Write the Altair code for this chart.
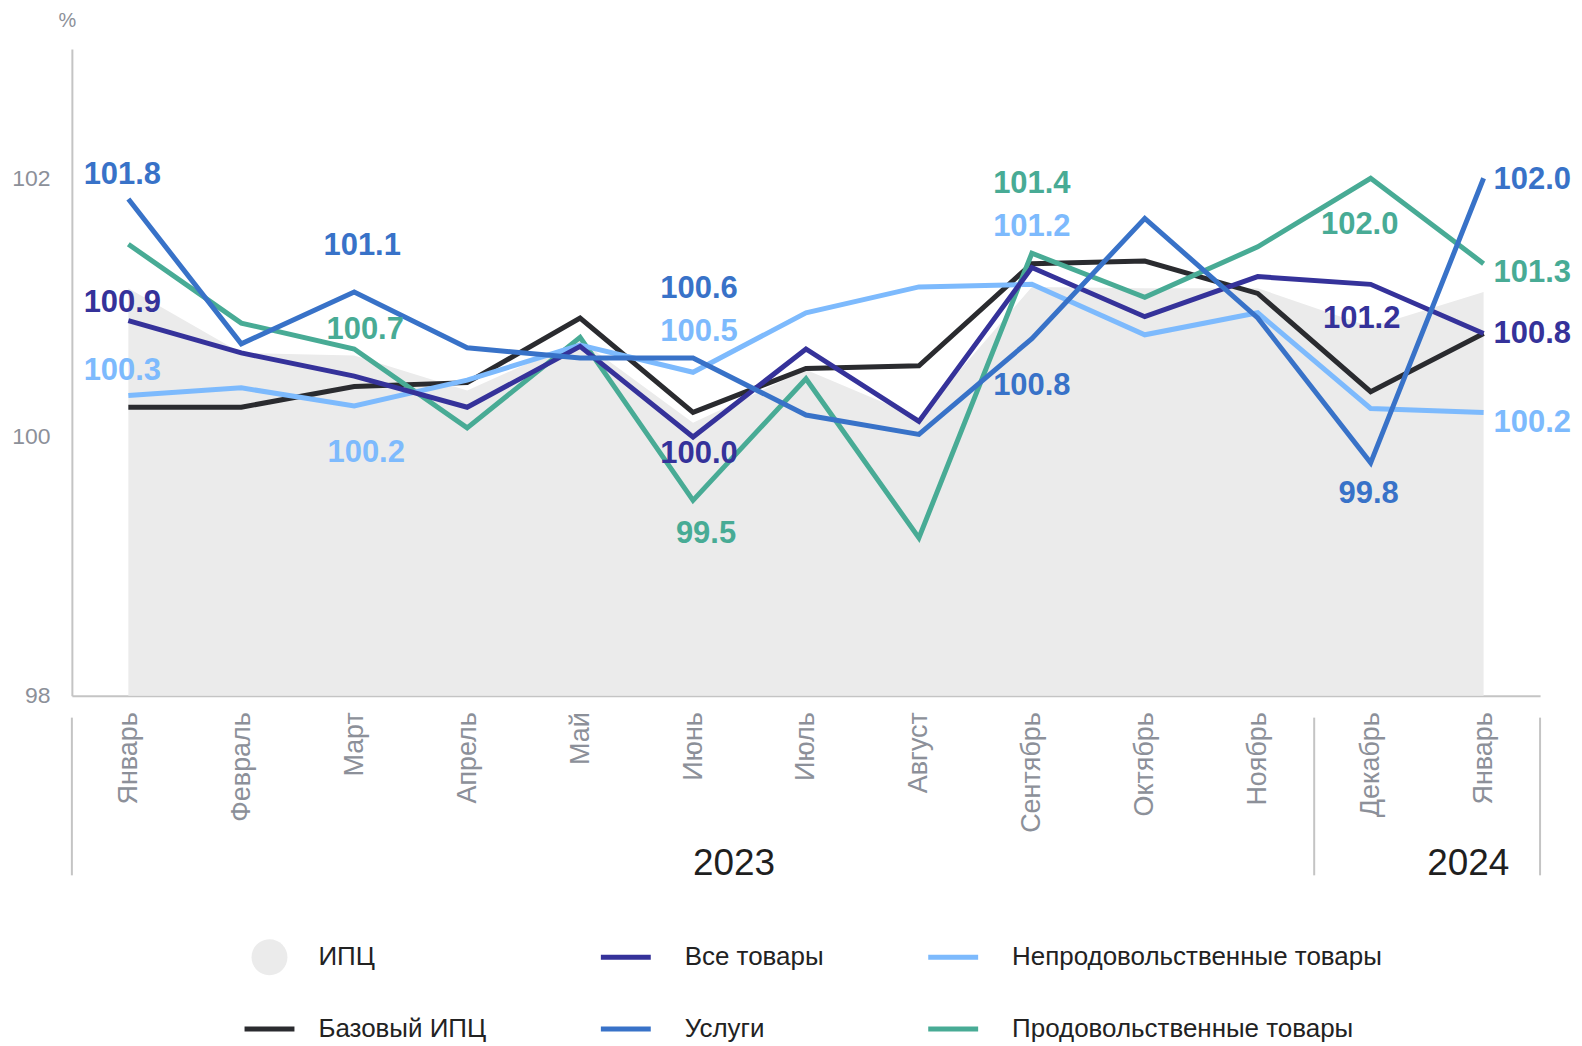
import json
import altair as alt
import pandas as pd

# ---------------- data ----------------
months = ["Январь", "Февраль", "Март", "Апрель", "Май", "Июнь", "Июль",
          "Август", "Сентябрь", "Октябрь", "Ноябрь", "Декабрь", "Январь"]
years = ["2023"] * 11 + ["2024"] * 2

cpi = [101.15, 100.65, 100.63, 100.36, 100.75, 100.11, 100.52, 100.15, 101.16, 101.15, 101.15, 100.85, 101.12]
core = [100.23, 100.23, 100.39, 100.42, 100.92, 100.19, 100.53, 100.55, 101.34, 101.36, 101.11, 100.35, 100.80]
all_goods = [100.90, 100.65, 100.47, 100.23, 100.70, 100.00, 100.68, 100.12, 101.31, 100.93, 101.24, 101.18, 100.80]
services = [101.84, 100.72, 101.12, 100.69, 100.61, 100.61, 100.17, 100.02, 100.76, 101.69, 100.92, 99.80, 102.00]
nonfood = [100.32, 100.38, 100.24, 100.44, 100.71, 100.50, 100.96, 101.16, 101.18, 100.79, 100.96, 100.22, 100.19]
food = [101.49, 100.88, 100.68, 100.07, 100.77, 99.51, 100.45, 99.22, 101.42, 101.08, 101.47, 102.00, 101.34]

series_names = ["ИПЦ", "Все товары", "Непродовольственные товары",
                "Базовый ИПЦ", "Услуги", "Продовольственные товары"]
series_colors = ["#ebebeb", "#35329a", "#7dbafd", "#2a2b2f", "#3872c8", "#48ab95"]

line_series = [
    ("Базовый ИПЦ", core),
    ("Продовольственные товары", food),
    ("Непродовольственные товары", nonfood),
    ("Все товары", all_goods),
    ("Услуги", services),
]

# value annotations: series, month index, pixel offset (dx, dy), alignment
annotations = [
    ("Услуги", 0, -6, -24, "center"),
    ("Все товары", 0, -6, -18, "center"),
    ("Непродовольственные товары", 0, -6, -25, "center"),
    ("Услуги", 2, 8, -46, "center"),
    ("Продовольственные товары", 2, 11, -19, "center"),
    ("Непродовольственные товары", 2, 12, 47, "center"),
    ("Услуги", 5, 6, -69, "center"),
    ("Непродовольственные товары", 5, 6, -40, "center"),
    ("Все товары", 5, 6, 17, "center"),
    ("Продовольственные товары", 5, 13, 34, "center"),
    ("Продовольственные товары", 8, 0, -69, "center"),
    ("Непродовольственные товары", 8, 0, -57, "center"),
    ("Услуги", 8, 0, 47, "center"),
    ("Продовольственные товары", 11, -11, 47, "center"),
    ("Все товары", 11, -9, 35, "center"),
    ("Услуги", 11, -2, 31, "center"),
    ("Услуги", 12, 10, 2, "left"),
    ("Продовольственные товары", 12, 10, 9, "left"),
    ("Все товары", 12, 10, 1, "left"),
    ("Непродовольственные товары", 12, 10, 11, "left"),
]

# ---------------- tables ----------------
n = len(months)
df_cpi = pd.DataFrame({"i": range(n), "value": cpi})
rows = []
for name, vals in line_series:
    for i, v in enumerate(vals):
        rows.append({"i": i, "series": name, "value": v})
df_lines = pd.DataFrame(rows)
lookup = {name: vals for name, vals in line_series}
df_lab = pd.DataFrame([
    {"k": j, "i": i, "series": s, "value": lookup[s][i]}
    for j, (s, i, dx, dy, a) in enumerate(annotations)
])

# year groups -> separators and label anchors
groups = []
for y in dict.fromkeys(years):
    idx = [k for k, yy in enumerate(years) if yy == y]
    groups.append({"year": y, "lo": idx[0] - 0.5, "hi": idx[-1] + 0.5})
df_years = pd.DataFrame(groups)
df_years["mid"] = (df_years["lo"] + df_years["hi"]) / 2
bounds = sorted(set(df_years["lo"]).union(df_years["hi"]))
df_sep = pd.DataFrame({"b": bounds})

# ---------------- styles ----------------
FONT = "Liberation Sans"
GRAY = "#8c9099"
AXIS_LINE = "#c4c4c4"
W, H = 1471, 648
TOTAL_H = 1038

# legend layout (pixels relative to the plot's top-left corner)
LEG_COLS = 3
LEG_SYMBOL_X = [198, 555, 883]
LEG_LABEL_X = [247, 614, 942]
LEG_ROW_Y = [910, 982]

x_scale = alt.Scale(domain=[-0.5, n - 0.5], nice=False, zero=False)
y_scale = alt.Scale(domain=[98, 103], nice=False, zero=False)
x_axis = alt.Axis(values=list(range(n)),
                  labelExpr=json.dumps(months, ensure_ascii=False) + "[datum.value]",
                  labelAngle=270, ticks=False, grid=False, title=None,
                  domainColor=AXIS_LINE, domainWidth=2, labelColor=GRAY,
                  labelFontSize=27, labelPadding=16, labelOverlap=False,
                  labelFlush=False, labelBound=False)
y_axis = alt.Axis(values=[98, 100, 102], ticks=False, grid=False,
                  domainColor=AXIS_LINE, domainWidth=2, labelColor=GRAY,
                  labelFontSize=23, labelPadding=22, title="%", titleAngle=0,
                  titleX=-5, titleY=-28, titleFontSize=20, titleColor=GRAY,
                  titleFontWeight="normal", titleAlign="center",
                  titleBaseline="middle")


def X(field):
    return alt.X(f"{field}:Q", scale=x_scale, axis=x_axis)


def Y(field):
    return alt.Y(f"{field}:Q", scale=y_scale, axis=y_axis)


line_path = "M-1,-0.1H1V0.1H-1Z"
k = 0.3977
circle_path = (f"M0.72,0C0.72,{k} {k},0.72 0,0.72C-{k},0.72 -0.72,{k} -0.72,0"
               f"C-0.72,-{k} -{k},-0.72 0,-0.72C{k},-0.72 0.72,-{k} 0.72,0Z")
shapes = [circle_path] + [line_path] * (len(series_names) - 1)

# ---------------- main layers ----------------
area = alt.Chart(df_cpi).mark_area(color="#ebebeb").encode(
    x=X("i"), y=Y("value"), y2=alt.datum(98))

lines = alt.Chart(df_lines).mark_line(strokeWidth=5).encode(
    x=X("i"), y=Y("value"),
    stroke=alt.Stroke("series:N", scale=alt.Scale(domain=series_names, range=series_colors), legend=None),
    order=alt.Order("i:Q"))

label_layers = []
for j, (s, i, dx, dy, al) in enumerate(annotations):
    label_layers.append(
        alt.Chart(df_lab).transform_filter(f"datum.k == {j}").mark_text(
            font=FONT, fontSize=31, fontWeight="bold", align=al, baseline="middle",
            dx=dx, dy=dy).encode(
            x=X("i"), y=Y("value"),
            text=alt.Text("value:Q", format=".1f"),
            fill=alt.Fill("series:N", scale=alt.Scale(domain=series_names, range=series_colors), legend=None))
    )

seps = alt.Chart(df_sep).mark_rule(color=AXIS_LINE, strokeWidth=2).encode(
    x=X("b"), y=alt.value(H + 22), y2=alt.value(H + 180))

year_text = alt.Chart(df_years).mark_text(
    font=FONT, fontSize=37, color="#1f1f1f", align="left", baseline="middle").encode(
    x=X("mid"), y=alt.value(817), text="year:N")

main = alt.layer(area, lines, *label_layers, seps, year_text)

# ---------------- legend (built from the series list) ----------------
df_leg = pd.DataFrame({"series": series_names})
df_leg["col"] = [j % LEG_COLS for j in range(len(series_names))]
df_leg["row"] = [j // LEG_COLS for j in range(len(series_names))]
df_leg["sx"] = [LEG_SYMBOL_X[c] for c in df_leg["col"]]
df_leg["lx"] = [LEG_LABEL_X[c] for c in df_leg["col"]]
df_leg["ry"] = [LEG_ROW_Y[r] for r in df_leg["row"]]

ident = alt.Scale(domain=[0, 2000], range=[0, 2000], nice=False, zero=False)

leg_sym = alt.Chart(df_leg).mark_point(filled=True, opacity=1, size=2500, strokeWidth=0).encode(
    x=alt.X("sx:Q", scale=ident, axis=None),
    y=alt.Y("ry:Q", scale=ident, axis=None),
    color=alt.Color("series:N", scale=alt.Scale(domain=series_names, range=series_colors), legend=None),
    shape=alt.Shape("series:N", scale=alt.Scale(domain=series_names, range=shapes), legend=None))

leg_txt = alt.Chart(df_leg).mark_text(
    font=FONT, fontSize=26, color="#222222", align="left", baseline="middle").encode(
    x=alt.X("lx:Q", scale=ident, axis=None),
    y=alt.Y("ry:Q", scale=ident, axis=None),
    text="series:N")

legend_block = alt.layer(leg_sym, leg_txt)

chart = alt.layer(main, legend_block).resolve_scale(
    x="independent", y="independent"
).properties(
    width=W, height=H,
    autosize=alt.AutoSizeParams(type="none"),
    padding={"left": 64, "top": 40, "right": 34, "bottom": TOTAL_H - 40 - H},
).configure(font=FONT).configure_view(stroke=None)

chart.save("out.html", embed_options={"renderer": "svg", "actions": False})
